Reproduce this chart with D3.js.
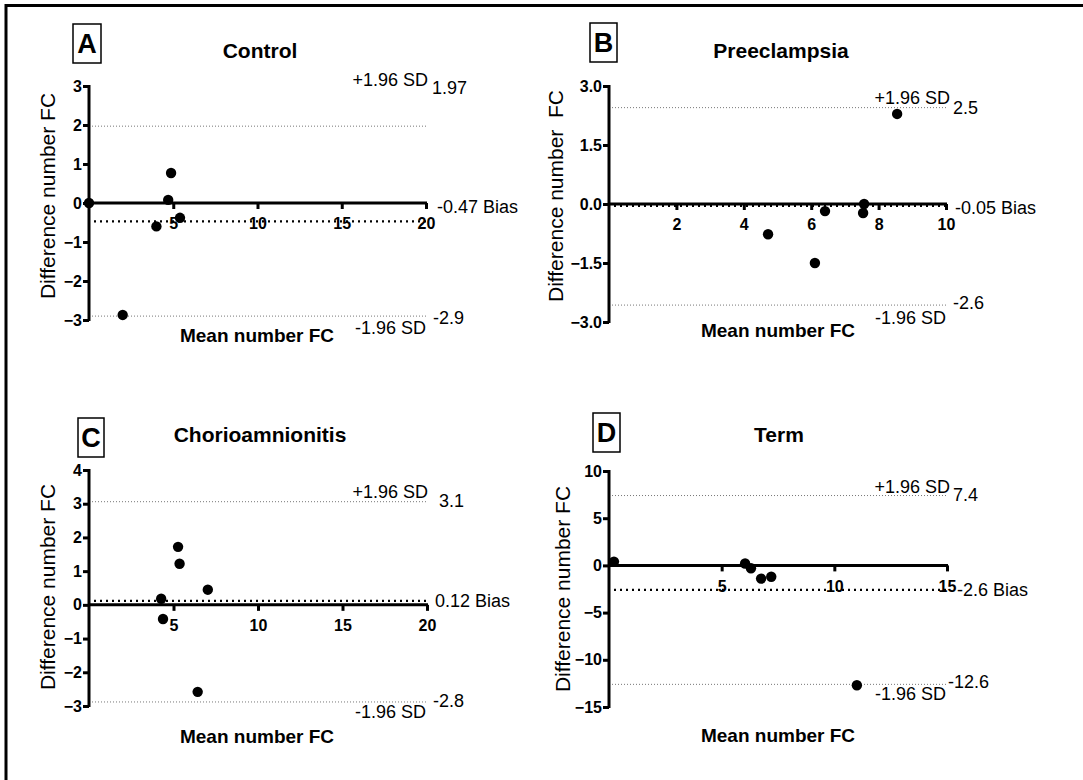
<!DOCTYPE html>
<html lang="en">
  <head>
    <meta charset="UTF-8" />
    <title>Bland-Altman FC</title>
    <style type="text/css">
      body {
        margin: 0;
        background: #ffffff;
        font-family: "Liberation Sans", Arial, Helvetica, sans-serif;
      }

      svg {
        display: block;
      }

      .tick-label {
        font-size: 16px;
        font-weight: bold;
      }

      .panel-title {
        font-size: 21px;
        font-weight: bold;
      }

      .axis-title-x {
        font-size: 19px;
        font-weight: bold;
      }

      .axis-title-y {
        font-size: 21px;
      }

      .note {
        font-size: 18px;
      }

      .letter {
        font-size: 27px;
        font-weight: bold;
      }
    </style>
  </head>
  <body>
    <script src="https://cdnjs.cloudflare.com/ajax/libs/d3/7.8.5/d3.min.js"></script>
    <script>
      var panelLetters = ["A", "B", "C", "D"];
      var panelTitles = ["Control", "Preeclampsia", "Chorioamnionitis", "Term"];
      var yTitles = [
        "Difference number FC",
        "Difference number\u00a0 FC",
        "Difference number FC",
        "Difference number FC",
      ];
      var xTitle = "Mean number FC";

      var xDomains = [[0, 20], [0, 10], [0, 20], [0, 15]];
      var yDomains = [[-3, 3], [-3, 3], [-3, 4], [-15, 10]];
      var xTicks = [[5, 10, 15, 20], [2, 4, 6, 8, 10], [5, 10, 15, 20], [5, 10, 15]];
      var yTicks = [
        [-3, -2, -1, 0, 1, 2, 3],
        [-3, -1.5, 0, 1.5, 3],
        [-3, -2, -1, 0, 1, 2, 3, 4],
        [-15, -10, -5, 0, 5, 10],
      ];
      var yFormats = ["d", ".1f", "d", "d"];

      // [mean, difference]
      var controlPoints = [[0, 0], [2.0, -2.87], [4.0, -0.6], [4.7, 0.08], [4.87, 0.77], [5.4, -0.38]];
      var preeclampsiaPoints = [[4.72, -0.77], [6.11, -1.5], [6.41, -0.18], [7.57, 0], [7.54, -0.23], [8.55, 2.29]];
      var chorioPoints = [[4.27, 0.18], [4.38, -0.42], [5.27, 1.72], [5.36, 1.22], [7.03, 0.45], [6.43, -2.58]];
      var termPoints = [[0.22, 0.4], [6.04, 0.2], [6.3, -0.3], [6.75, -1.4], [7.2, -1.2], [11.0, -12.7]];
      var allPoints = [controlPoints, preeclampsiaPoints, chorioPoints, termPoints];

      var biasValues = [-0.47, -0.05, 0.12, -2.6];
      var biasLabels = ["-0.47 Bias", "-0.05 Bias", "0.12 Bias", "-2.6 Bias"];
      var upperValues = [1.97, 2.45, 3.06, 7.4];
      var upperLabels = ["1.97", "2.5", "3.1", "7.4"];
      var lowerValues = [-2.9, -2.57, -2.88, -12.6];
      var lowerLabels = ["-2.9", "-2.6", "-2.8", "-12.6"];

      // layout of each panel (pixels)
      var layout = [
        {
          xr: [89, 426], yr: [320, 86], box: [73, 24, 28, 39], title: [260, 58],
          xt: [257, 342], yt: [55, 196],
          sdUp: [428, -40], valUp: [432, -32], bias: [437, -8], valLow: [433, 8], sdLow: [426, 18],
        },
        {
          xr: [609, 946], yr: [322, 86], box: [590, 23, 27, 39], title: [781, 58],
          xt: [778, 337], yt: [563, 196],
          sdUp: [950, -4], valUp: [953, 6], bias: [955, 8], valLow: [953, 4], sdLow: [946, 19],
        },
        {
          xr: [89, 427], yr: [706, 470], box: [78, 418, 26, 39], title: [260, 442],
          xt: [257, 743], yt: [55, 587],
          sdUp: [428, -4], valUp: [439, 5], bias: [435, 6], valLow: [433, 5], sdLow: [426, 16],
        },
        {
          xr: [609, 947], yr: [707, 471], box: [593, 413, 27, 39], title: [779, 442],
          xt: [778, 742], yt: [570, 589],
          sdUp: [950, -3], valUp: [953, 5], bias: [957, 6], valLow: [948, 4], sdLow: [946, 16],
        },
      ];

      var width = 1083;
      var height = 780;

      var svg = d3
        .select("body")
        .append("svg")
        .attr("width", width)
        .attr("height", height);

      // frame (top and left edges only)
      svg
        .append("path")
        .attr("d", `M6,${height} L6,5.5 L${width},5.5`)
        .attr("fill", "none")
        .attr("stroke", "#000")
        .attr("stroke-width", 3);

      panelLetters.forEach(function (letter, i) {
        var L = layout[i];
        var x = d3.scaleLinear().domain(xDomains[i]).range(L.xr);
        var y = d3.scaleLinear().domain(yDomains[i]).range(L.yr);
        var g = svg.append("g").attr("class", "panel");

        // letter box
        g.append("rect")
          .attr("x", L.box[0])
          .attr("y", L.box[1])
          .attr("width", L.box[2])
          .attr("height", L.box[3])
          .attr("fill", "none")
          .attr("stroke", "#000")
          .attr("stroke-width", 1.5);
        g.append("text")
          .attr("class", "letter")
          .attr("x", L.box[0] + L.box[2] / 2)
          .attr("y", L.box[1] + L.box[3] - 10)
          .attr("text-anchor", "middle")
          .text(letter);

        g.append("text")
          .attr("class", "panel-title")
          .attr("x", L.title[0])
          .attr("y", L.title[1])
          .attr("text-anchor", "middle")
          .text(panelTitles[i]);

        // limits of agreement
        var x0 = x.range()[0];
        var x1 = x.range()[1];
        [upperValues[i], lowerValues[i]].forEach(function (v) {
          g.append("line")
            .attr("x1", x0 + 3)
            .attr("x2", x1)
            .attr("y1", y(v))
            .attr("y2", y(v))
            .attr("stroke", "#777")
            .attr("stroke-width", 1)
            .attr("stroke-dasharray", "1 2");
        });

        // bias
        g.append("line")
          .attr("x1", x0 + 5)
          .attr("x2", x1)
          .attr("y1", y(biasValues[i]))
          .attr("y2", y(biasValues[i]))
          .attr("stroke", "#000")
          .attr("stroke-width", 2.2)
          .attr("stroke-dasharray", "2 4");

        // x axis at zero
        var xAxis = d3
          .axisBottom(x)
          .tickValues(xTicks[i])
          .tickSize(6)
          .tickSizeOuter(0)
          .tickPadding(9);
        var gx = g
          .append("g")
          .attr("transform", `translate(0,${y(0)})`)
          .call(xAxis);
        gx.select(".domain").attr("stroke-width", 3).attr("d", `M${x0},0H${x1 + 1}`);
        gx.selectAll(".tick line").attr("stroke-width", 3);
        gx.selectAll(".tick text")
          .attr("class", "tick-label")
          .attr("fill", "#000")
          .attr("dy", "0.71em");

        var yAxis = d3
          .axisLeft(y)
          .tickValues(yTicks[i])
          .tickFormat(d3.format(yFormats[i]))
          .tickSize(6)
          .tickSizeOuter(0)
          .tickPadding(1);
        var gy = g
          .append("g")
          .attr("transform", `translate(${x0},0)`)
          .call(yAxis);
        var yr = y.range();
        gy.select(".domain").attr("stroke-width", 3).attr("d", `M0,${yr[0] + 1}V${yr[1] - 1}`);
        gy.selectAll(".tick line").attr("stroke-width", 3);
        gy.selectAll(".tick text")
          .attr("class", "tick-label")
          .attr("fill", "#000");

        // points
        g.append("g")
          .selectAll("circle")
          .data(allPoints[i])
          .join("circle")
          .attr("cx", (d) => x(d[0]))
          .attr("cy", (d) => y(d[1]))
          .attr("r", 5.2)
          .attr("fill", "#000");

        // annotations
        var notes = [
          { p: L.sdUp, v: upperValues[i], t: "+1.96 SD", anchor: "end" },
          { p: L.valUp, v: upperValues[i], t: upperLabels[i], anchor: "start" },
          { p: L.bias, v: biasValues[i], t: biasLabels[i], anchor: "start" },
          { p: L.valLow, v: lowerValues[i], t: lowerLabels[i], anchor: "start" },
          { p: L.sdLow, v: lowerValues[i], t: "-1.96 SD", anchor: "end" },
        ];
        g.selectAll(".note")
          .data(notes)
          .join("text")
          .attr("class", "note")
          .attr("x", (d) => d.p[0])
          .attr("y", (d) => y(d.v) + d.p[1])
          .attr("text-anchor", (d) => d.anchor)
          .text((d) => d.t);

        g.append("text")
          .attr("class", "axis-title-x")
          .attr("x", L.xt[0])
          .attr("y", L.xt[1])
          .attr("text-anchor", "middle")
          .text(xTitle);

        g.append("text")
          .attr("class", "axis-title-y")
          .attr("transform", `translate(${L.yt[0]},${L.yt[1]}) rotate(-90)`)
          .attr("text-anchor", "middle")
          .text(yTitles[i]);
      });
    </script>
  </body>
</html>
